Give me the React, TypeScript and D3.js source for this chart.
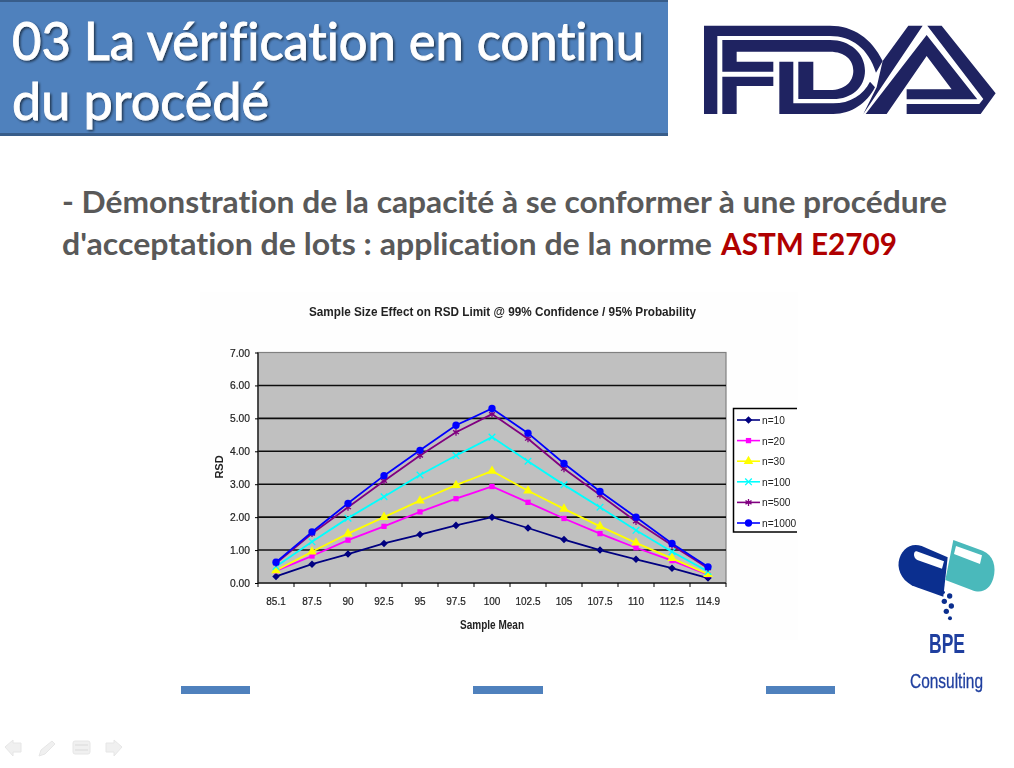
import { useEffect, useRef } from "react";
import * as d3 from "d3";

const sampleMeans = ["85.1", "87.5", "90", "92.5", "95", "97.5", "100", "102.5", "105", "107.5", "110", "112.5", "114.9"];
const yTicks = [0, 1, 2, 3, 4, 5, 6, 7];

const n10 = [0.2, 0.57, 0.88, 1.2, 1.47, 1.75, 2.0, 1.67, 1.32, 1.0, 0.72, 0.45, 0.15];
const n20 = [0.37, 0.82, 1.3, 1.72, 2.16, 2.56, 2.93, 2.45, 1.96, 1.5, 1.07, 0.68, 0.25];
const n30 = [0.38, 0.95, 1.5, 2.0, 2.5, 2.97, 3.4, 2.8, 2.25, 1.72, 1.22, 0.75, 0.27];
const n100 = [0.5, 1.25, 1.97, 2.62, 3.28, 3.87, 4.43, 3.7, 2.98, 2.3, 1.6, 0.95, 0.35];
const n500 = [0.6, 1.5, 2.3, 3.1, 3.87, 4.58, 5.13, 4.38, 3.47, 2.67, 1.87, 1.15, 0.45];
const n1000 = [0.63, 1.55, 2.42, 3.26, 4.03, 4.79, 5.3, 4.55, 3.63, 2.78, 2.0, 1.2, 0.49];

const seriesNames = ["n=10", "n=20", "n=30", "n=100", "n=500", "n=1000"];
const seriesValues = [n10, n20, n30, n100, n500, n1000];
const seriesColors = ["#000080", "#FF00FF", "#FFFF00", "#00FFFF", "#800080", "#0000FF"];
const seriesSymbols = [d3.symbolDiamond2, d3.symbolSquare, d3.symbolTriangle, d3.symbolTimes, d3.symbolAsterisk, d3.symbolCircle];
const symbolSizes = [36, 28, 40, 30, 34, 42];

const chartFont = "'Liberation Sans', Arial, sans-serif";
const fdaBlue = "#1F2361";
const bpeBlue = "#1F3F9F";

export default function App() {
    const chartRef = useRef<SVGGElement | null>(null);

    useEffect(() => {
        if (!chartRef.current) return;
        const g = d3.select(chartRef.current);
        g.selectAll("*").remove();

        const left = 258, right = 726, top = 352.5, bottom = 583;

        const x = d3.scaleBand<string>().domain(sampleMeans).range([left, right]);
        const y = d3.scaleLinear().domain([0, 7]).range([bottom, top]);

        // plot background and gridlines
        g.append("rect")
            .attr("x", left).attr("y", top)
            .attr("width", right - left).attr("height", bottom - top)
            .attr("fill", "#C0C0C0").attr("stroke", "#808080").attr("stroke-width", 1.2);

        g.selectAll("line.grid")
            .data(yTicks.slice(1, -1))
            .join("line")
            .attr("x1", left).attr("x2", right)
            .attr("y1", d => y(d)).attr("y2", d => y(d))
            .attr("stroke", "#111").attr("stroke-width", 1.6);

        g.append("line")
            .attr("x1", left).attr("x2", right)
            .attr("y1", bottom).attr("y2", bottom)
            .attr("stroke", "#222").attr("stroke-width", 1.4);
        g.append("line")
            .attr("x1", left).attr("x2", left)
            .attr("y1", top).attr("y2", bottom)
            .attr("stroke", "#222").attr("stroke-width", 1.4);

        // axes
        const yAxis = g.append("g")
            .attr("transform", `translate(${left},0)`)
            .call(d3.axisLeft(y).tickValues(yTicks).tickSize(3).tickPadding(5).tickFormat(d => d3.format(".2f")(d as number)));
        yAxis.select(".domain").remove();
        yAxis.selectAll("text")
            .attr("font-size", 11).attr("font-family", chartFont).attr("fill", "#222")
            .attr("textLength", 20).attr("lengthAdjust", "spacingAndGlyphs")
            .attr("stroke", "#222").attr("stroke-width", 0.2);

        const xAxis = g.append("g")
            .attr("transform", `translate(0,${bottom})`)
            .call(d3.axisBottom(x).tickSize(0).tickPadding(14));
        xAxis.select(".domain").remove();
        xAxis.selectAll<SVGTextElement, string>("text")
            .attr("font-size", 11.5).attr("font-family", chartFont).attr("fill", "#222")
            .attr("stroke", "#222").attr("stroke-width", 0.2)
            .attr("lengthAdjust", "spacingAndGlyphs")
            .attr("textLength", function () { return this.getComputedTextLength() * 0.87; });

        // x ticks sit on band edges, not on band centres
        g.selectAll("line.xtick")
            .data(d3.range(sampleMeans.length + 1))
            .join("line")
            .attr("x1", d => left + d * x.step()).attr("x2", d => left + d * x.step())
            .attr("y1", bottom).attr("y2", bottom + 4)
            .attr("stroke", "#000");

        // series
        const line = d3.line<number>()
            .x((_, i) => x(sampleMeans[i])! + x.bandwidth() / 2)
            .y(d => y(d));

        seriesValues.forEach((values, s) => {
            g.append("path")
                .datum(values)
                .attr("fill", "none")
                .attr("stroke", seriesColors[s])
                .attr("stroke-width", 1.8)
                .attr("d", line);
            const open = seriesSymbols[s] === d3.symbolTimes || seriesSymbols[s] === d3.symbolAsterisk;
            const symbol = d3.symbol().type(seriesSymbols[s]).size(symbolSizes[s]);
            g.append("g")
                .selectAll("path")
                .data(values)
                .join("path")
                .attr("transform", (d, i) => `translate(${x(sampleMeans[i])! + x.bandwidth() / 2},${y(d)})`)
                .attr("d", symbol())
                .attr("fill", open ? "none" : seriesColors[s])
                .attr("stroke", open ? seriesColors[s] : "none")
                .attr("stroke-width", 1.3);
        });

        // titles
        g.append("text")
            .attr("x", 502.5).attr("y", 316)
            .attr("text-anchor", "middle")
            .attr("font-family", chartFont).attr("font-weight", "bold").attr("font-size", 13)
            .attr("textLength", 387).attr("lengthAdjust", "spacingAndGlyphs")
            .attr("fill", "#222")
            .text("Sample Size Effect on RSD Limit @ 99% Confidence / 95% Probability");
        g.append("text")
            .attr("x", 492).attr("y", 629)
            .attr("text-anchor", "middle")
            .attr("font-family", chartFont).attr("font-weight", "bold").attr("font-size", 12.5)
            .attr("textLength", 64).attr("lengthAdjust", "spacingAndGlyphs")
            .attr("fill", "#222")
            .text("Sample Mean");
        g.append("text")
            .attr("transform", "translate(223,467) rotate(-90)")
            .attr("text-anchor", "middle")
            .attr("font-family", chartFont).attr("font-weight", "bold").attr("font-size", 11)
            .attr("fill", "#222")
            .text("RSD");

        // legend: the picture is cropped on the right, so no right border
        const legend = g.append("g");
        legend.append("rect")
            .attr("x", 733.5).attr("y", 408.5)
            .attr("width", 64).attr("height", 123.5)
            .attr("fill", "#fff");
        legend.append("path")
            .attr("d", d3.line()([[797, 408.5], [733.5, 408.5], [733.5, 532], [797, 532]]))
            .attr("fill", "none").attr("stroke", "#000").attr("stroke-width", 1.5);
        const legendY = d3.scalePoint<string>().domain(seriesNames).range([420, 523]);
        seriesNames.forEach((name, s) => {
            const ly = legendY(name)!;
            legend.append("line")
                .attr("x1", 737).attr("x2", 760)
                .attr("y1", ly).attr("y2", ly)
                .attr("stroke", seriesColors[s]).attr("stroke-width", 1.6);
            const open = seriesSymbols[s] === d3.symbolTimes || seriesSymbols[s] === d3.symbolAsterisk;
            legend.append("path")
                .attr("transform", `translate(748.5,${ly})`)
                .attr("d", d3.symbol().type(seriesSymbols[s]).size(symbolSizes[s])())
                .attr("fill", open ? "none" : seriesColors[s])
                .attr("stroke", open ? seriesColors[s] : "none")
                .attr("stroke-width", 1.3);
            legend.append("text")
                .attr("x", 762).attr("y", ly + 4)
                .attr("font-family", chartFont).attr("font-size", 11.5)
                .attr("textLength", name.length * 5.7).attr("lengthAdjust", "spacingAndGlyphs")
                .attr("fill", "#222")
                .text(name);
        });
    }, []);

    return (
        <svg width={1014} height={768} style={{ position: "absolute", left: 0, top: 0, background: "#fff", fontVariantLigatures: "none" }}>
            <defs>
                <filter id="titleShadow" x="-5%" y="-20%" width="110%" height="140%">
                    <feDropShadow dx="1.5" dy="1.5" stdDeviation="1.2" floodColor="#000" floodOpacity="0.6" />
                </filter>
                <filter id="soft" x="-2%" y="-2%" width="104%" height="104%">
                    <feGaussianBlur stdDeviation="0.4" />
                </filter>
            </defs>

            {/* header band */}
            <rect x={0} y={0} width={668} height={136} fill="#4F81BD" />
            <rect x={0} y={0} width={668} height={2} fill="#385D8A" />
            <rect x={0} y={133} width={668} height={3} fill="#385D8A" />
            <g fontFamily="Lato, sans-serif" fontSize={52} fill="#fff" stroke="#fff" strokeWidth={0.9} filter="url(#titleShadow)">
                <text x={12} y={60} textLength={632} lengthAdjust="spacingAndGlyphs">03 La vérification en continu</text>
                <text x={12} y={120} textLength={257} lengthAdjust="spacingAndGlyphs">du procédé</text>
            </g>

            {/* FDA logo */}
            <g transform="translate(690,0) scale(0.3333)" fill={fdaBlue}>
                <path d="M42 77H420C490 77 545 115 578 183L558 218C535 145 485 108 420 108H82V342H42Z" />
                <path d="M97 120H420C480 120 525 160 525 212C525 262 485 297 430 297H325V185H370V270H420C465 270 490 245 490 212C490 180 465 155 420 155H140V185H250V215H97Z" />
                <path d="M97 230H250V258H140V342H97Z" />
                <path d="M268 185H310V310H430C480 310 520 285 540 245L555 262C530 310 485 342 430 342H268Z" />
                <path d="M578 183L655 77H698L520 342L560 262Z" />
                <path d="M710 105L862 298H650V268H785L710 168L590 342H527Z" />
                <path d="M712 77H755L917 280L872 342H650V312H868L880 297Z" />
            </g>

            {/* subtitle */}
            <g fontFamily="Lato, sans-serif" fontWeight="bold" fontSize={30} fill="#595959">
                <text x={62} y={213} textLength={885} lengthAdjust="spacingAndGlyphs">- Démonstration de la capacité à se conformer à une procédure</text>
                <text x={62} y={255} textLength={650} lengthAdjust="spacingAndGlyphs">d'acceptation de lots : application de la norme</text>
                <text x={721} y={255} textLength={176} lengthAdjust="spacingAndGlyphs" fill="#B00000">ASTM E2709</text>
            </g>

            {/* chart */}
            <rect x={200} y={292} width={598} height={348} fill="#FEFEFE" />
            <g ref={chartRef} filter="url(#soft)" />

            {/* bottom bars */}
            <rect x={181} y={686} width={69} height={8} fill="#4F81BD" />
            <rect x={473} y={686} width={70} height={8} fill="#4F81BD" />
            <rect x={766} y={686} width={69} height={8} fill="#4F81BD" />

            {/* BPE logo */}
            <g transform="translate(880,530) scale(0.3333)">
                <path d="M203 82L190 200L110 172C70 158 52 125 56 95C62 60 90 36 125 48Z" fill="#0B2F8F" />
                <path d="M110 64L192 94L186 116L112 90C98 84 100 62 110 64Z" fill="#fff" />
                <path d="M220 30L308 62C340 75 350 110 340 145C330 180 305 192 275 180L196 150Z" fill="#4AB9BB" />
                <path d="M228 48L306 76L300 102L222 72Z" fill="#fff" />
                <g fill="#0B2F8F">
                    <circle cx={190} cy={187} r={5} />
                    <circle cx={209} cy={198} r={8} />
                    <circle cx={193} cy={214} r={8} />
                    <circle cx={214} cy={228} r={8} />
                    <circle cx={199} cy={244} r={8} />
                    <circle cx={210} cy={265} r={6} />
                </g>
            </g>
            <text x={929} y={653} fontFamily="'Liberation Sans', sans-serif" fontSize={28} fontWeight="bold" fill={bpeBlue} textLength={36} lengthAdjust="spacingAndGlyphs">BPE</text>
            <text x={910} y={688} fontFamily="'Liberation Sans', sans-serif" fontSize={20} fill={bpeBlue} stroke={bpeBlue} strokeWidth={0.3} textLength={73} lengthAdjust="spacingAndGlyphs">Consulting</text>

            {/* slide navigation icons */}
            <g fill="#F0F0F0" stroke="#E6E6E6">
                <path d="M5 747L13 740V743H21V752H13V756Z" />
                <path d="M39 756L41 750L52 741L55 744L45 754Z" />
                <rect x={73} y={741} width={17} height={13} rx={2} />
                <path d="M122 747L114 740V743H106V752H114V756Z" />
            </g>
            <g stroke="#DADADA">
                <line x1={75} x2={88} y1={745} y2={745} />
                <line x1={75} x2={88} y1={750} y2={750} />
            </g>
        </svg>
    );
}
